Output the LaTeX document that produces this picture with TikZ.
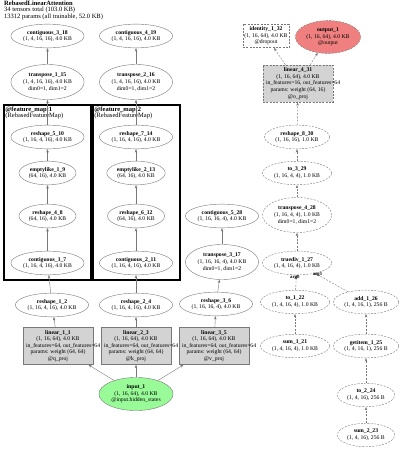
\documentclass[tikz,border=0pt]{standalone}
\usepackage{fontspec}
\setmainfont{Liberation Serif}
\usetikzlibrary{shapes.geometric, arrows.meta, positioning}
\definecolor{modgray}{RGB}{211, 211, 211}
\definecolor{ingreen}{RGB}{152, 251, 152}
\definecolor{outred}{RGB}{240, 128, 128}
\definecolor{linegray}{RGB}{120, 120, 120}
\newcommand{\ovrline}[1]{\makebox[0pt][l]{\hspace*{-32pt}#1}}
\tikzset{
  tlnode/.style={draw=linegray, line width=0.4pt, font=\fontsize{5.7}{6.6}\selectfont, align=center, inner xsep=1.5pt, inner ysep=2.5pt},
  opnode/.style={tlnode, ellipse},
  tpnode/.style={opnode, minimum height=35pt},
  modnode/.style={tlnode, rectangle, fill=modgray, minimum width=70pt, minimum height=37pt},
  bufdash/.style={dash pattern=on 2pt off 1.3pt},
  bufop/.style={opnode, bufdash},
  buftp/.style={tpnode, bufdash},
  bufmod/.style={modnode, bufdash},
  innode/.style={opnode, fill=ingreen, minimum width=72pt, minimum height=32pt},
  outnode/.style={opnode, bufdash, fill=outred, minimum width=64pt, minimum height=29pt},
  fmbox/.style={draw=black, line width=1.5pt, rectangle, inner sep=0pt},
  fmlabel/.style={font=\fontsize{6.5}{5.8}\selectfont, align=left, inner sep=0pt, anchor=north west},
  flow/.style={-{Stealth[length=3.5pt, width=2.5pt]}, draw=linegray, line width=0.4pt},
  dflow/.style={flow, bufdash},
  arglbl/.style={font=\fontsize{4.8}{5}\selectfont\bfseries, inner sep=0pt},
}
\begin{document}
\begin{tikzpicture}[x=1pt, y=-1pt]
  \useasboundingbox (0,0) rectangle (400,449);
  \node[fmlabel] (title) at (4,1) {\textbf{RebasedLinearAttention}\\34 tensors total (103.0 KB)\\13312 params (all trainable, 52.0 KB)};

  % feature map clusters
  \node[fmbox, minimum width=87pt, minimum height=175pt] (fm1) at (47.5,192.5) {};
  \node[fmbox, minimum width=87pt, minimum height=175pt] (fm2) at (136.5,192.5) {};
  \node[fmlabel] (fm1lbl) at ([shift={(2pt,-2pt)}]fm1.north west) {\textbf{@feature\_map:1}\\(RebasedFeatureMap)};
  \node[fmlabel] (fm2lbl) at ([shift={(2pt,-2pt)}]fm2.north west) {\textbf{@feature\_map:2}\\(RebasedFeatureMap)};

  % query path
  \node[opnode] (c318) at (47.5,36) {\textbf{contiguous\_3\_18}\\(1, 4, 16, 16), 4.0 KB};
  \node[tpnode] (t115) at (47.5,82) {\textbf{transpose\_1\_15}\\(1, 4, 16, 16), 4.0 KB\\dim0=1, dim1=2};
  \node[opnode] (r510) at (47.5,137) {\textbf{reshape\_5\_10}\\(1, 16, 4, 16), 4.0 KB};
  \node[opnode] (e19) at (47.5,173) {\textbf{emptylike\_1\_9}\\(64, 16), 4.0 KB};
  \node[opnode] (r48) at (47.5,216) {\textbf{reshape\_4\_8}\\(64, 16), 4.0 KB};
  \node[opnode] (c17) at (47.5,263) {\textbf{contiguous\_1\_7}\\(1, 16, 4, 16), 4.0 KB};
  \node[opnode] (r12) at (52,305) {\textbf{reshape\_1\_2}\\(1, 16, 4, 16), 4.0 KB};
  \node[modnode] (l11) at (58,346) {\textbf{linear\_1\_1}\\(1, 16, 64), 4.0 KB\\\ovrline{in\_features=64, out\_features=64}\\params: weight (64, 64)\\@q\_proj};

  % key path
  \node[opnode] (c419) at (136,36) {\textbf{contiguous\_4\_19}\\(1, 4, 16, 16), 4.0 KB};
  \node[tpnode] (t216) at (136,82) {\textbf{transpose\_2\_16}\\(1, 4, 16, 16), 4.0 KB\\dim0=1, dim1=2};
  \node[opnode] (r714) at (136,137) {\textbf{reshape\_7\_14}\\(1, 16, 4, 16), 4.0 KB};
  \node[opnode] (e213) at (136,173) {\textbf{emptylike\_2\_13}\\(64, 16), 4.0 KB};
  \node[opnode] (r612) at (136,216) {\textbf{reshape\_6\_12}\\(64, 16), 4.0 KB};
  \node[opnode] (c211) at (136,263) {\textbf{contiguous\_2\_11}\\(1, 16, 4, 16), 4.0 KB};
  \node[opnode] (r24) at (136,305) {\textbf{reshape\_2\_4}\\(1, 16, 4, 16), 4.0 KB};
  \node[modnode] (l23) at (136,346) {\textbf{linear\_2\_3}\\(1, 16, 64), 4.0 KB\\\ovrline{in\_features=64, out\_features=64}\\params: weight (64, 64)\\@k\_proj};

  % value path
  \node[opnode] (c528) at (222,216) {\textbf{contiguous\_5\_28}\\(1, 16, 16, 4), 4.0 KB};
  \node[tpnode] (t317) at (222,262) {\textbf{transpose\_3\_17}\\(1, 16, 16, 4), 4.0 KB\\dim0=1, dim1=2};
  \node[opnode] (r36) at (216,304) {\textbf{reshape\_3\_6}\\(1, 16, 16, 4), 4.0 KB};
  \node[modnode] (l35) at (214,346) {\textbf{linear\_3\_5}\\(1, 16, 64), 4.0 KB\\\ovrline{in\_features=64, out\_features=64}\\params: weight (64, 64)\\@v\_proj};

  \node[innode] (in1) at (136,394) {\textbf{input\_1}\\(1, 16, 64), 4.0 KB\\@input.hidden\_states};

  % output side (dashed)
  \node[tlnode, rectangle, bufdash] (id132) at (266,36) {\textbf{identity\_1\_32}\\(1, 16, 64), 4.0 KB\\@dropout};
  \node[outnode] (out1) at (328,37) {\textbf{output\_1}\\(1, 16, 64), 4.0 KB\\@output};
  \node[bufmod] (l431) at (298,83.5) {\textbf{linear\_4\_31}\\(1, 16, 64), 4.0 KB\\\ovrline{in\_features=16, out\_features=64}\\params: weight (64, 16)\\@o\_proj};
  \node[bufop] (r830) at (297,137) {\textbf{reshape\_8\_30}\\(1, 16, 16), 1.0 KB};
  \node[bufop] (to329) at (297,173) {\textbf{to\_3\_29}\\(1, 16, 4, 4), 1.0 KB};
  \node[buftp] (t428) at (297,215) {\textbf{transpose\_4\_28}\\(1, 16, 4, 4), 1.0 KB\\dim0=1, dim1=2};
  \node[bufop] (td127) at (297,263) {\textbf{truediv\_1\_27}\\(1, 4, 16, 4), 1.0 KB};
  \node[bufop] (to122) at (295,302) {\textbf{to\_1\_22}\\(1, 4, 16, 4), 1.0 KB};
  \node[bufop] (s121) at (295,346) {\textbf{sum\_1\_21}\\(1, 4, 16, 4), 1.0 KB};
  \node[bufop] (a126) at (366,302) {\textbf{add\_1\_26}\\(1, 4, 16, 1), 256 B};
  \node[bufop] (g125) at (366,346) {\textbf{getitem\_1\_25}\\(1, 4, 16, 1), 256 B};
  \node[bufop] (to224) at (366,395) {\textbf{to\_2\_24}\\(1, 4, 16), 256 B};
  \node[bufop] (s223) at (366,435) {\textbf{sum\_2\_23}\\(1, 4, 16), 256 B};

  % edges
  \draw[flow] (in1) -- (l11);
  \draw[flow] (in1) -- (l23);
  \draw[flow] (in1) -- (l35);
  \draw[flow] (l11) -- (r12);
  \draw[flow] (r12) -- (c17);
  \draw[flow] (c17) -- (r48);
  \draw[flow] (r48) -- (e19);
  \draw[flow] (e19) -- (r510);
  \draw[flow] (r510) -- (t115);
  \draw[flow] (t115) -- (c318);
  \draw[flow] (l23) -- (r24);
  \draw[flow] (r24) -- (c211);
  \draw[flow] (c211) -- (r612);
  \draw[flow] (r612) -- (e213);
  \draw[flow] (e213) -- (r714);
  \draw[flow] (r714) -- (t216);
  \draw[flow] (t216) -- (c419);
  \draw[flow] (l35) -- (r36);
  \draw[flow] (r36) -- (t317);
  \draw[flow] (t317) -- (c528);
  \draw[dflow] (s223) -- (to224);
  \draw[dflow] (to224) -- (g125);
  \draw[dflow] (g125) -- (a126);
  \draw[dflow] (s121) -- (to122);
  \draw[dflow] (to122) -- (td127) node[arglbl, pos=0.85, xshift=-1.5pt] {arg0};
  \draw[dflow] (a126) -- (td127) node[arglbl, pos=0.93] {arg1};
  \draw[dflow] (td127) -- (t428);
  \draw[dflow] (t428) -- (to329);
  \draw[dflow] (to329) -- (r830);
  \draw[dflow] (r830) -- (l431);
  \draw[dflow] (l431) -- (id132);
  \draw[dflow] (l431) -- (out1);
\end{tikzpicture}
\end{document}
